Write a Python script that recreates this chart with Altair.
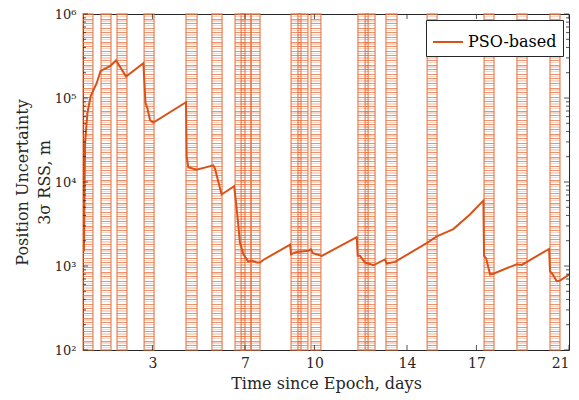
import altair as alt
import pandas as pd

# ---- data ----
days = [0.04, 0.09, 0.19, 0.33, 0.59, 0.76, 1.17, 1.43, 1.86, 2.61, 2.70, 2.78, 2.90, 3.04,
        4.45, 4.48, 4.55, 4.91, 5.63, 5.70, 5.99, 6.53, 6.61, 6.71, 6.78, 6.93, 7.14, 7.30,
        7.50, 7.65, 7.79, 8.95, 8.99, 9.24, 9.74, 9.85, 9.93, 10.32, 11.83, 11.87, 11.97,
        12.19, 12.55, 13.05, 13.12, 13.48, 14.85, 15.29, 16.00, 16.72, 17.30, 17.33, 17.42,
        17.59, 17.73, 18.74, 18.96, 20.14, 20.18, 20.30, 20.47, 20.61, 21.00]
rss = [1.5e3, 2.9e4, 6.6e4, 1.05e5, 1.5e5, 2.1e5, 2.4e5, 2.8e5, 1.8e5, 2.6e5, 8.7e4, 7.6e4,
       5.4e4, 5.1e4, 8.9e4, 2.0e4, 1.5e4, 1.4e4, 1.58e4, 1.45e4, 7.1e3, 8.9e3, 5.8e3, 3.1e3,
       1.9e3, 1.38e3, 1.13e3, 1.16e3, 1.1e3, 1.1e3, 1.18e3, 1.8e3, 1.38e3, 1.47e3, 1.52e3,
       1.58e3, 1.42e3, 1.32e3, 2.2e3, 1.32e3, 1.32e3, 1.1e3, 1.02e3, 1.2e3, 1.07e3, 1.12e3,
       1.87e3, 2.25e3, 2.75e3, 4.1e3, 6.0e3, 1.32e3, 1.23e3, 7.9e2, 8.1e2, 1.05e3, 1.03e3,
       1.6e3, 8.7e2, 7.9e2, 6.6e2, 6.7e2, 7.9e2]

win_start = [0.00, 0.78, 1.47, 2.64, 4.45, 5.57, 6.57, 6.83, 7.26, 8.99, 9.29, 9.85,
             11.88, 12.19, 13.09, 14.87, 17.33, 18.75, 20.18]
win_end = [0.43, 1.21, 1.90, 3.07, 4.93, 6.01, 7.00, 7.26, 7.65, 9.42, 9.72, 10.28,
           12.32, 12.62, 13.57, 15.30, 17.76, 19.19, 20.61]

x_ticks = [3, 7, 10, 14, 17, 21]
y_major = [1e2, 1e3, 1e4, 1e5, 1e6]
y_minor = [m * 10 ** k for k in range(2, 6) for m in range(2, 10)]
series_name = "PSO-based"

# ---- layout / style ----
W, H = 486, 336
ORANGE = "#D95319"
INK = "#262626"
FONT = "DejaVu Serif"

line_df = pd.DataFrame({"day": days, "rss": rss, "idx": range(len(days)),
                        "series": [series_name] * len(days)})
win_df = pd.DataFrame({"start": win_start, "end": win_end})
xt_df = pd.DataFrame({"t": x_ticks})
ymaj_df = pd.DataFrame({"v": y_major})
ymin_df = pd.DataFrame({"v": y_minor})


def stripes(height, period=4.6):
    clear = "rgba(255,255,255,0)"
    dark = "rgba(232,110,60,0.75)"
    light = "rgba(232,110,60,0.28)"
    stops = []
    n = int(height / period) + 1
    for i in range(n):
        b = i * period
        segs = [(b, b + 1.0, dark), (b + 1.0, b + period / 2 - 0.5, clear),
                (b + period / 2 - 0.5, b + period / 2 + 0.9, light),
                (b + period / 2 + 0.9, b + period, clear)]
        for s, e, c in segs:
            s = min(s / height, 1.0)
            e = min(e / height, 1.0)
            stops.append(alt.GradientStop(color=c, offset=s))
            stops.append(alt.GradientStop(color=c, offset=e))
    return alt.LinearGradient(gradient="linear", stops=stops, x1=0, x2=0, y1=0, y2=1)


xscale = alt.Scale(domain=[0, 21], nice=False, zero=False)
yscale = alt.Scale(type="log", domain=[1e2, 1e6], nice=False)

sup_expr = ("datum.value >= 1e6 ? '10⁶' : datum.value >= 1e5 ? '10⁵' : "
            "datum.value >= 1e4 ? '10⁴' : datum.value >= 1e3 ? '10³' : '10²'")

xaxis = alt.Axis(values=x_ticks, ticks=False, domain=False, grid=False,
                 labelFont=FONT, labelFontSize=14, labelColor=INK, labelPadding=6,
                 title="Time since Epoch, days", titleFont=FONT, titleFontSize=16,
                 titleFontWeight="normal", titleColor=INK, titlePadding=5)
yaxis = alt.Axis(values=y_major, ticks=False, domain=False, grid=False,
                 labelExpr=sup_expr, labelFont=FONT, labelFontSize=13,
                 labelColor=INK, labelPadding=7,
                 title=["Position Uncertainty", "3σ RSS, m"], titleFont=FONT,
                 titleFontSize=16, titleFontWeight="normal", titleColor=INK,
                 titlePadding=2, titleLineHeight=22)

X = lambda f: alt.X(f, scale=xscale, axis=xaxis)
Y = lambda f: alt.Y(f, scale=yscale, axis=yaxis)

rects = alt.Chart(win_df).mark_rect(
    fill=stripes(H), stroke="#E2703F", strokeOpacity=0.8, strokeWidth=1.3
).encode(
    x=X("start:Q"),
    x2="end:Q",
    y=alt.value(0),
    y2=alt.value(H),
)

line = alt.Chart(line_df).mark_line(strokeWidth=2).encode(
    x=X("day:Q"),
    y=Y("rss:Q"),
    color=alt.Color("series:N", scale=alt.Scale(range=[ORANGE]),
                    legend=alt.Legend(title=None, orient="top-right", offset=6,
                                      fillColor="white", strokeColor=INK, padding=6,
                                      symbolType="stroke", symbolSize=900,
                                      symbolStrokeWidth=2, labelFont=FONT,
                                      labelFontSize=16, labelColor="black")),
    order="idx:Q",
)

tick_color = INK
ymaj_l = alt.Chart(ymaj_df).mark_rule(color=tick_color, strokeWidth=0.8).encode(
    y=Y("v:Q"), x=alt.value(0), x2=alt.value(5))
ymaj_r = alt.Chart(ymaj_df).mark_rule(color=tick_color, strokeWidth=0.8).encode(
    y=Y("v:Q"), x=alt.value(W - 5), x2=alt.value(W))
ymin_l = alt.Chart(ymin_df).mark_rule(color=tick_color, strokeWidth=0.8).encode(
    y=Y("v:Q"), x=alt.value(0), x2=alt.value(3))
ymin_r = alt.Chart(ymin_df).mark_rule(color=tick_color, strokeWidth=0.8).encode(
    y=Y("v:Q"), x=alt.value(W - 3), x2=alt.value(W))
xt_b = alt.Chart(xt_df).mark_rule(color=tick_color, strokeWidth=0.8).encode(
    x=X("t:Q"), y=alt.value(H - 5), y2=alt.value(H))
xt_t = alt.Chart(xt_df).mark_rule(color=tick_color, strokeWidth=0.8).encode(
    x=X("t:Q"), y=alt.value(0), y2=alt.value(5))

chart = alt.layer(
    rects, line, ymaj_l, ymaj_r, ymin_l, ymin_r, xt_b, xt_t
).properties(
    width=W, height=H,
    autosize=alt.AutoSizeParams(type="none"),
    padding={"left": 75, "top": 6, "right": 2, "bottom": 48},
).configure_view(
    stroke=INK, strokeWidth=1
)

chart.save("out.html", embed_options={"renderer": "svg", "actions": False})
